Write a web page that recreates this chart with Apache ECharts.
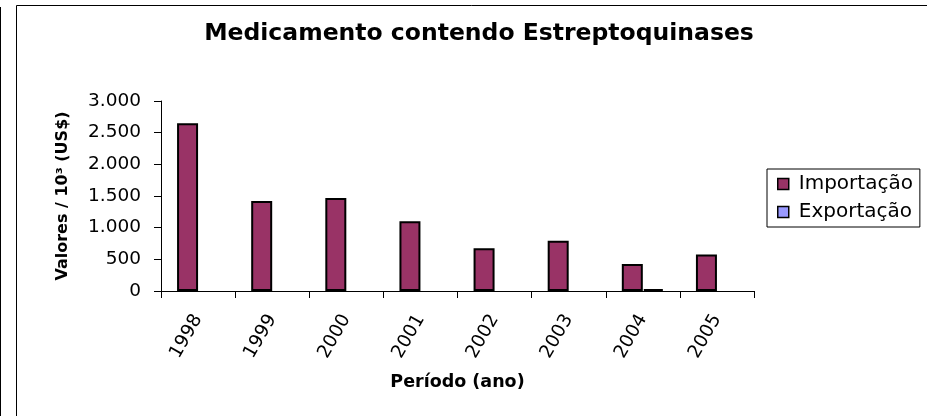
<!DOCTYPE html>
<html>
<head>
<meta charset="utf-8">
<script src="https://cdn.jsdelivr.net/npm/echarts@6/dist/echarts.min.js"></script>
<style>
  html, body { margin: 0; padding: 0; background: #fff; }
  #chart { width: 927px; height: 416px; }
</style>
</head>
<body>
<div id="chart"></div>
<script>
// Anos (categorias do eixo X)
const years = ['1998', '1999', '2000', '2001', '2002', '2003', '2004', '2005'];
// Valores em milhares de US$
const importacao = [2650, 1420, 1470, 1100, 675, 795, 425, 575];
const exportacao = [null, null, null, null, null, null, 30, null];
// Escala do eixo Y
const yMin = 0, yMax = 3000, yStep = 500;

const FONT = 'DejaVu Sans';
const fmtThousands = v => String(v).replace(/\B(?=(\d{3})+(?!\d))/g, '.');

const chart = echarts.init(document.getElementById('chart'), null, { renderer: 'canvas' });

chart.setOption({
  backgroundColor: '#fff',
  animation: false,
  textStyle: { fontFamily: FONT, color: '#000' },
  title: {
    text: 'Medicamento contendo Estreptoquinases',
    left: 474,
    textAlign: 'center',
    top: 17,
    textStyle: { fontFamily: FONT, fontSize: 23.5, fontWeight: 'bold', color: '#000' }
  },
  legend: {
    orient: 'vertical',
    left: 767,
    top: 169,
    padding: [5, 7, 5, 10],
    itemGap: 8,
    itemWidth: 11,
    itemHeight: 11,
    borderColor: '#000',
    borderWidth: 1,
    icon: 'rect',
    textStyle: { fontFamily: FONT, fontSize: 20, color: '#000', padding: [0, 0, 0, 5] },
    data: [
      { name: 'Importação', itemStyle: { color: '#993366', borderColor: '#000', borderWidth: 1.5 } },
      { name: 'Exportação', itemStyle: { color: '#9999FF', borderColor: '#000', borderWidth: 1.5 } }
    ]
  },
  grid: { left: 161, right: 173, top: 101, bottom: 125, containLabel: false },
  xAxis: {
    type: 'category',
    data: years,
    name: 'Período (ano)',
    nameLocation: 'middle',
    nameGap: 82,
    nameTextStyle: { fontFamily: FONT, fontSize: 17.5, fontWeight: 'bold', color: '#000' },
    axisLine: { lineStyle: { color: '#000', width: 1 } },
    axisTick: { show: true, length: 7, alignWithLabel: false, lineStyle: { color: '#000' } },
    axisLabel: { rotate: 60, margin: 25, fontFamily: FONT, fontSize: 18.5, color: '#000' },
    splitLine: { show: false }
  },
  yAxis: {
    type: 'value',
    min: yMin,
    max: yMax,
    interval: yStep,
    name: 'Valores / 10³ (US$)',
    nameLocation: 'middle',
    nameRotate: 90,
    nameGap: 90,
    nameTextStyle: { fontFamily: FONT, fontSize: 16, fontWeight: 'bold', color: '#000' },
    axisLine: { show: true, lineStyle: { color: '#000', width: 1 } },
    axisTick: { show: true, length: 7, lineStyle: { color: '#000' } },
    axisLabel: { margin: 20, fontFamily: FONT, fontSize: 18.5, color: '#000', formatter: fmtThousands },
    splitLine: { show: false }
  },
  series: [
    {
      name: 'Importação',
      type: 'bar',
      data: importacao,
      barWidth: 21,
      barGap: '0%',
      itemStyle: { color: '#993366', borderColor: '#000', borderWidth: 2 }
    },
    {
      name: 'Exportação',
      type: 'bar',
      data: exportacao,
      barWidth: 21,
      barGap: '0%',
      itemStyle: { color: '#9999FF', borderColor: '#000', borderWidth: 2 }
    }
  ],
  graphic: [
    // moldura externa
    { type: 'line', silent: true, shape: { x1: 0.5, y1: 7, x2: 0.5, y2: 416 }, style: { stroke: '#000', lineWidth: 1 } },
    { type: 'polyline', silent: true, shape: { points: [[16.5, 416], [16.5, 5.5], [927, 5.5]] }, style: { stroke: '#000', lineWidth: 1, fill: null } }
  ]
});
</script>
</body>
</html>
